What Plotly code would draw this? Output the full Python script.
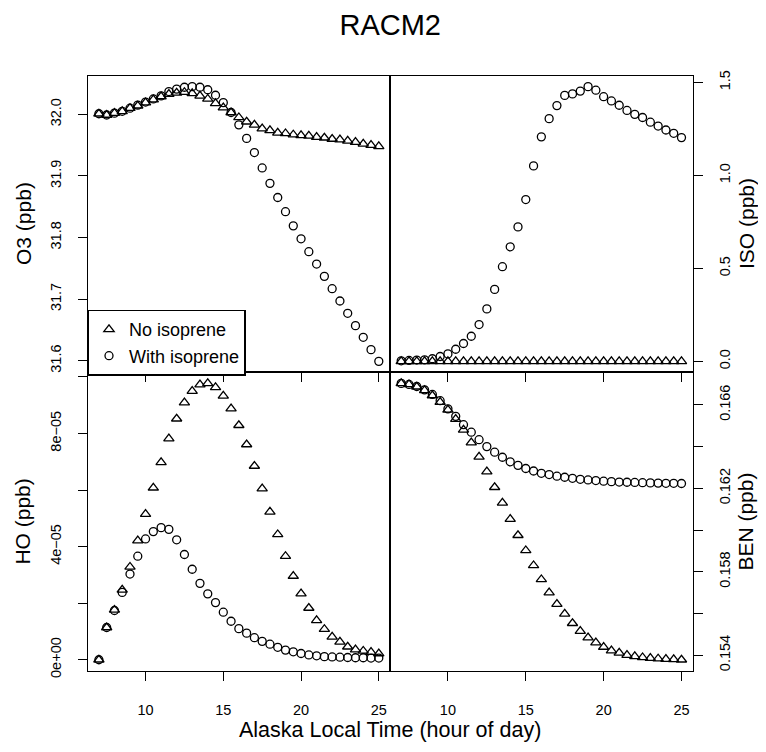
import plotly.graph_objects as go

# hour of day (Alaska local time), half-hour steps
hours = [7.0, 7.5, 8.0, 8.5, 9.0, 9.5, 10.0, 10.5, 11.0, 11.5, 12.0, 12.5,
         13.0, 13.5, 14.0, 14.5, 15.0, 15.5, 16.0, 16.5, 17.0, 17.5, 18.0, 18.5,
         19.0, 19.5, 20.0, 20.5, 21.0, 21.5, 22.0, 22.5, 23.0, 23.5, 24.0, 24.5, 25.0]

o3_no_iso = [32.001, 31.999, 32.002, 32.005, 32.010, 32.014, 32.019, 32.024, 32.029, 32.033,
             32.035, 32.036, 32.034, 32.030, 32.025, 32.018, 32.011, 32.003, 31.995, 31.988,
             31.983, 31.977, 31.974, 31.970, 31.969, 31.967, 31.966, 31.965, 31.963, 31.962,
             31.960, 31.959, 31.957, 31.955, 31.952, 31.950, 31.948]
o3_with_iso = [32.001, 31.999, 32.002, 32.005, 32.010, 32.015, 32.020, 32.025, 32.030, 32.037,
               32.041, 32.044, 32.045, 32.044, 32.040, 32.031, 32.019, 32.003, 31.983, 31.961,
               31.938, 31.913, 31.888, 31.865, 31.842, 31.819, 31.798, 31.777, 31.757, 31.737,
               31.717, 31.697, 31.677, 31.657, 31.638, 31.618, 31.599]

iso_no_iso = [0.0] * 37
iso_with_iso = [0.003, 0.005, 0.007, 0.008, 0.014, 0.026, 0.040, 0.065, 0.096, 0.135,
                0.198, 0.282, 0.387, 0.509, 0.616, 0.723, 0.870, 1.051, 1.207, 1.305,
                1.375, 1.430, 1.438, 1.453, 1.477, 1.458, 1.423, 1.400, 1.377, 1.349,
                1.328, 1.311, 1.286, 1.265, 1.244, 1.226, 1.203]

ho_no_iso = [0.0, 1.14e-5, 1.76e-5, 2.47e-5, 3.28e-5, 4.21e-5, 5.15e-5, 6.08e-5, 6.98e-5, 7.82e-5,
             8.52e-5, 9.09e-5, 9.50e-5, 9.73e-5, 9.77e-5, 9.63e-5, 9.33e-5, 8.88e-5, 8.29e-5, 7.61e-5,
             6.85e-5, 6.05e-5, 5.23e-5, 4.43e-5, 3.66e-5, 2.96e-5, 2.34e-5, 1.83e-5, 1.39e-5, 1.08e-5,
             0.81e-5, 0.63e-5, 0.46e-5, 0.36e-5, 0.31e-5, 0.27e-5, 0.22e-5]
ho_with_iso = [0.0, 1.14e-5, 1.74e-5, 2.38e-5, 3.03e-5, 3.66e-5, 4.27e-5, 4.53e-5, 4.67e-5, 4.61e-5,
               4.24e-5, 3.72e-5, 3.20e-5, 2.70e-5, 2.33e-5, 2.02e-5, 1.68e-5, 1.36e-5, 1.10e-5, 0.94e-5,
               0.78e-5, 0.65e-5, 0.55e-5, 0.44e-5, 0.34e-5, 0.28e-5, 0.22e-5, 0.17e-5, 0.14e-5, 0.11e-5,
               0.10e-5, 0.09e-5, 0.08e-5, 0.07e-5, 0.07e-5, 0.06e-5, 0.06e-5]

ben_no_iso = [0.16703, 0.16698, 0.16687, 0.16670, 0.16645, 0.16613, 0.16576, 0.16532, 0.16480, 0.16419,
              0.16351, 0.16280, 0.16205, 0.16130, 0.16052, 0.15975, 0.15902, 0.15830, 0.15763, 0.15700,
              0.15645, 0.15598, 0.15553, 0.15515, 0.15484, 0.15460, 0.15439, 0.15422, 0.15411, 0.15400,
              0.15394, 0.15389, 0.15386, 0.15383, 0.15381, 0.15380, 0.15378]
ben_with_iso = [0.16703, 0.16698, 0.16688, 0.16672, 0.16650, 0.16620, 0.16581, 0.16545, 0.16505, 0.16469,
                0.16433, 0.16400, 0.16373, 0.16349, 0.16327, 0.16310, 0.16295, 0.16283, 0.16272, 0.16266,
                0.16258, 0.16253, 0.16248, 0.16243, 0.16240, 0.16237, 0.16234, 0.16232, 0.16230, 0.16229,
                0.16228, 0.16227, 0.16226, 0.16225, 0.16224, 0.16224, 0.16223]

x_ticks = [10, 15, 20, 25]
o3_ticks = [31.6, 31.7, 31.8, 31.9, 32.0]
o3_labels = ["31.6", "31.7", "31.8", "31.9", "32.0"]
iso_ticks = [0.0, 0.5, 1.0, 1.5]
iso_labels = ["0.0", "0.5", "1.0", "1.5"]
ho_ticks = [0.0, 2e-5, 4e-5, 6e-5, 8e-5, 1e-4]
ho_labels = ["0e+00", "", "4e\u221205", "", "8e\u221205", ""]
ben_ticks = [0.154, 0.156, 0.158, 0.160, 0.162, 0.164, 0.166]
ben_labels = ["0.154", "", "0.158", "", "0.162", "", "0.166"]

# the page body has an 8px margin, so the figure is drawn 8px in from the corner
OFF = 8
W, H = 766 - 2 * OFF, 752 - 2 * OFF
FONT = "Liberation Sans, Arial, Helvetica, sans-serif"
left, mid, right = 87.7, 390.0, 692.7
top, center, bottom = 71.7, 373.3, 676.7


def fx(p):
    return (p - OFF) / W


def fy(p):
    return 1 - (p - OFF) / H


def r_range(*series):
    # R default axis style: data range padded by 4% each side
    vals = [v for s in series for v in s]
    lo, hi = min(vals), max(vals)
    d = hi - lo
    return [lo - 0.04 * d, hi + 0.04 * d]


fig = go.Figure()

panels = [
    # (no iso, with iso, axis suffix, x domain, y domain, side, ticks, labels, bottom row)
    (o3_no_iso, o3_with_iso, "", (left, mid), (center, top), "left", o3_ticks, o3_labels, False),
    (iso_no_iso, iso_with_iso, "2", (mid, right), (center, top), "right", iso_ticks, iso_labels, False),
    (ho_no_iso, ho_with_iso, "3", (left, mid), (bottom, center), "left", ho_ticks, ho_labels, True),
    (ben_no_iso, ben_with_iso, "4", (mid, right), (bottom, center), "right", ben_ticks, ben_labels, True),
]

for k, (no_iso, with_iso, s, xd, yd, side, tv, tt, is_bottom) in enumerate(panels):
    fig.add_trace(go.Scatter(
        x=hours, y=no_iso, mode="markers", name="No isoprene",
        xaxis="x" + s, yaxis="y" + s, showlegend=(k == 0),
        marker=dict(symbol="triangle-up-open", size=9, color="black", line=dict(width=1.3))))
    fig.add_trace(go.Scatter(
        x=hours, y=with_iso, mode="markers", name="With isoprene",
        xaxis="x" + s, yaxis="y" + s, showlegend=(k == 0),
        marker=dict(symbol="circle-open", size=8, color="black", line=dict(width=1.3))))

    common = dict(showline=True, mirror=True, linecolor="black", linewidth=1.3,
                  showgrid=False, zeroline=False, ticks="outside", ticklen=9,
                  tickwidth=1.1, tickcolor="black",
                  tickfont=dict(family=FONT, size=14.5, color="black"))
    fig.layout["xaxis" + s] = dict(
        domain=[fx(xd[0]), fx(xd[1])], anchor="y" + s, range=r_range(hours),
        tickvals=x_ticks, ticktext=[str(t) for t in x_ticks],
        showticklabels=is_bottom, ticklabelstandoff=17, **common)
    fig.layout["yaxis" + s] = dict(
        domain=[fy(yd[0]), fy(yd[1])], anchor="x" + s, side=side,
        range=r_range(no_iso, with_iso), tickvals=tv, ticktext=tt,
        tickangle=-90, ticklabelstandoff=(11 if side == "left" else 10), **common)

titles = [
    ("O3 (ppb)", 23, (top + center) / 2),
    ("HO (ppb)", 23, (center + bottom) / 2),
    ("ISO (ppb)", 746, (top + center) / 2),
    ("BEN (ppb)", 746, (center + bottom) / 2),
]
for text, xp, yp in titles:
    fig.add_annotation(text=text, x=fx(xp), y=fy(yp), xref="paper", yref="paper",
                       textangle=-90, showarrow=False, xanchor="center", yanchor="middle",
                       font=dict(family=FONT, size=21, color="black"))

fig.add_annotation(text="Alaska Local Time (hour of day)", x=fx((left + right) / 2), y=fy(737),
                   xref="paper", yref="paper", showarrow=False,
                   xanchor="center", yanchor="middle",
                   font=dict(family=FONT, size=21.5, color="black"))

fig.update_layout(
    width=W, height=H,
    margin=dict(l=0, r=0, t=0, b=0),
    paper_bgcolor="white", plot_bgcolor="rgba(0,0,0,0)",
    title=dict(text="RACM2", x=fx((left + right) / 2), xanchor="center",
               y=fy(25), yanchor="middle",
               font=dict(family=FONT, size=29, color="black")),
    legend=dict(x=fx(left), y=fy(309.7), xanchor="left", yanchor="top",
                bgcolor="white", bordercolor="black", borderwidth=1.3,
                font=dict(family=FONT, size=18, color="black"),
                itemwidth=30, tracegroupgap=0),
    font=dict(family=FONT, color="black"),
)

fig.write_html("out.html")
